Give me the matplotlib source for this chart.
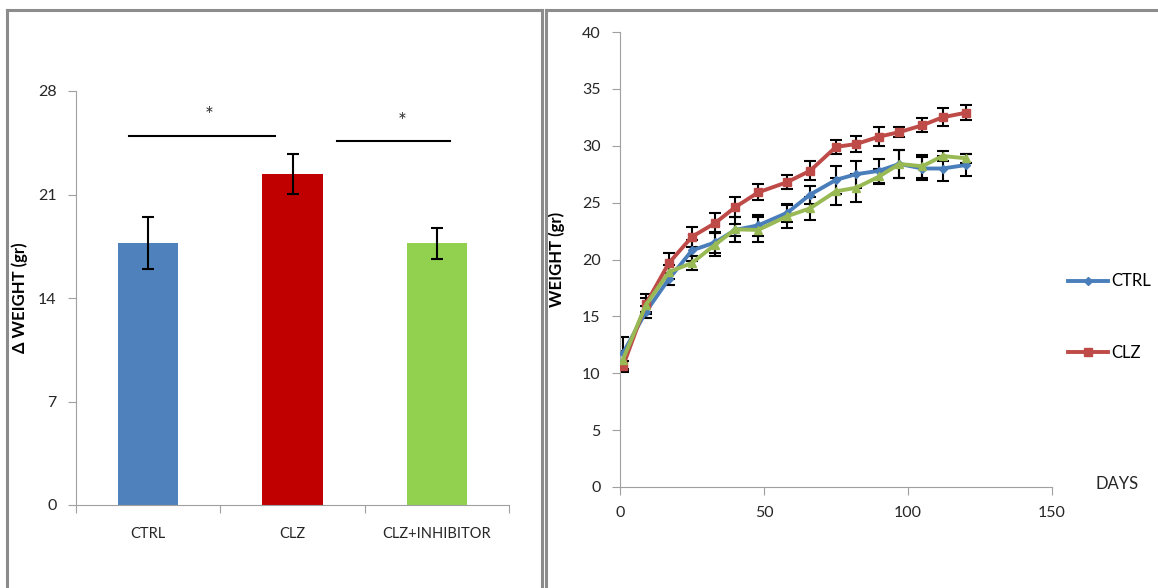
import numpy as np
import matplotlib
matplotlib.use("Agg")
import matplotlib.pyplot as plt
from matplotlib.lines import Line2D

plt.rcParams['font.family'] = ['Lato', 'DejaVu Sans']

# left panel: weight gain per group
groups = ["CTRL", "CLZ", "CLZ+INHIBITOR"]
delta_weight = [17.7, 22.4, 17.7]
delta_err = [1.75, 1.35, 1.05]
bar_colors = ["#4f81bd", "#c00000", "#92d050"]
# significance brackets: (x start, x end, height, star x, star y)
sig_brackets = [(0.37, 1.38, 24.95, 0.92, 26.3), (1.81, 2.59, 24.6, 2.26, 25.9)]

# right panel: weight over time
days = [1, 9, 17, 25, 33, 40, 48, 58, 66, 75, 82, 90, 97, 105, 112, 120]
ctrl = [11.75, 15.4, 18.3, 20.8, 21.5, 22.6, 23.0, 24.1, 25.7, 27.0, 27.5, 27.8, 28.4, 28.0, 28.0, 28.3]
ctrl_err = [1.45, 0.5, 0.5, 0.9, 0.9, 0.55, 0.9, 0.8, 0.8, 1.2, 1.2, 1.05, 1.25, 1.05, 1.1, 0.95]
clz = [10.6, 16.1, 19.7, 22.0, 23.2, 24.6, 25.9, 26.8, 27.8, 29.9, 30.15, 30.8, 31.2, 31.8, 32.5, 32.9]
clz_err = [0.5, 0.9, 0.9, 0.9, 0.9, 0.9, 0.7, 0.6, 0.85, 0.6, 0.7, 0.85, 0.45, 0.6, 0.8, 0.65]
inhib = [11.2, 16.0, 18.9, 19.7, 21.3, 22.65, 22.6, 23.8, 24.5, 26.0, 26.3, 27.3, 28.4, 28.2, 29.1, 28.9]
inhib_err = [0.8, 0.6, 0.6, 0.6, 1.0, 1.1, 1.1, 1.0, 1.0, 1.2, 1.25, 0.7, 1.2, 1.0, 0.45, 0.4]

gray = "#a0a0a0"
fig = plt.figure(figsize=(11.58, 5.88), dpi=100)

# panel frames
for x0, x1 in [(7.5 / 1158, 542 / 1158), (545.5 / 1158, 1.2)]:
    fig.add_artist(Line2D([x0, x0], [0, 1 - 10 / 588], color="#8c8c8c", lw=2.2))
    fig.add_artist(Line2D([x0, x1], [1 - 10 / 588, 1 - 10 / 588], color="#8c8c8c", lw=2.2))
fig.add_artist(Line2D([542 / 1158, 542 / 1158], [0, 1 - 10 / 588], color="#8c8c8c", lw=2.2))

# ---- bar chart
ax1 = fig.add_axes([76 / 1158, 83 / 588, 433 / 1158, 414 / 588])
xpos = np.arange(len(groups)) + 0.5
ax1.bar(xpos, delta_weight, width=0.42, color=bar_colors, zorder=2)
ax1.errorbar(xpos, delta_weight, yerr=delta_err, fmt="none", ecolor="black",
             elinewidth=1.5, capsize=4, capthick=1.5, zorder=3)
for xs, xe, h, sx, sy in sig_brackets:
    ax1.plot([xs, xe], [h, h], color="black", lw=1.5, clip_on=False)
    ax1.text(sx, sy, "*", ha="center", va="center", fontsize=15, color="#333333")
ax1.set_xlim(0, 3)
ax1.set_ylim(0, 28)
ax1.set_yticks([0, 7, 14, 21, 28])
ax1.set_xticks([0, 1, 2, 3])
ax1.set_xticklabels([])
ax1.set_xticks(xpos, minor=True)
ax1.set_xticklabels(groups, minor=True, fontsize=10.5, color="#262626")
ax1.tick_params(axis="x", which="minor", length=0, pad=16)
ax1.tick_params(axis="x", which="major", length=6, color=gray)
ax1.tick_params(axis="y", length=6, color=gray, labelsize=11.5, labelcolor="#262626", pad=8)
for s in ["top", "right"]:
    ax1.spines[s].set_visible(False)
for s in ["left", "bottom"]:
    ax1.spines[s].set_color(gray)
ax1.set_ylabel("Δ WEIGHT (gr)", fontsize=12, fontweight="bold")
ax1.yaxis.set_label_coords(-0.111, 0.5)

# ---- line chart
ax2 = fig.add_axes([620 / 1158, 101 / 588, 432 / 1158, 455 / 588])
series = [(ctrl, ctrl_err, "#4a7ebb", "D", 4, "CTRL"),
          (clz, clz_err, "#be4b48", "s", 6, "CLZ"),
          (inhib, inhib_err, "#98b954", "^", 6, None)]
handles = []
for vals, err, col, mk, ms, lab in series:
    ax2.errorbar(days, vals, yerr=err, fmt="none", ecolor="black", elinewidth=1.5,
                 capsize=4, capthick=1.5, zorder=2)
    ln, = ax2.plot(days, vals, color=col, lw=2.8, marker=mk, markersize=ms, zorder=3)
    if lab:
        handles.append((ln, lab))
ax2.set_xlim(0, 150)
ax2.set_ylim(0, 40)
ax2.set_xticks([0, 50, 100, 150])
ax2.set_yticks(np.arange(0, 41, 5))
ax2.tick_params(length=6, color=gray, labelsize=11.5, labelcolor="#262626", pad=8)
for s in ["top", "right"]:
    ax2.spines[s].set_visible(False)
for s in ["left", "bottom"]:
    ax2.spines[s].set_color(gray)
ax2.set_ylabel("WEIGHT (gr)", fontsize=12, fontweight="bold")
ax2.yaxis.set_label_coords(-0.127, 0.5)
ax2.text(165, 0.3, "DAYS", fontsize=12, color="#262626", va="center", ha="left", clip_on=False)
ax2.legend([h for h, _ in handles], [l for _, l in handles], loc="center left",
           bbox_to_anchor=(1.01, 0.373), frameon=False, fontsize=12, labelspacing=3.35,
           handlelength=2.4, handletextpad=0.2, borderaxespad=0.3)

fig.savefig("out.png", dpi=100)
